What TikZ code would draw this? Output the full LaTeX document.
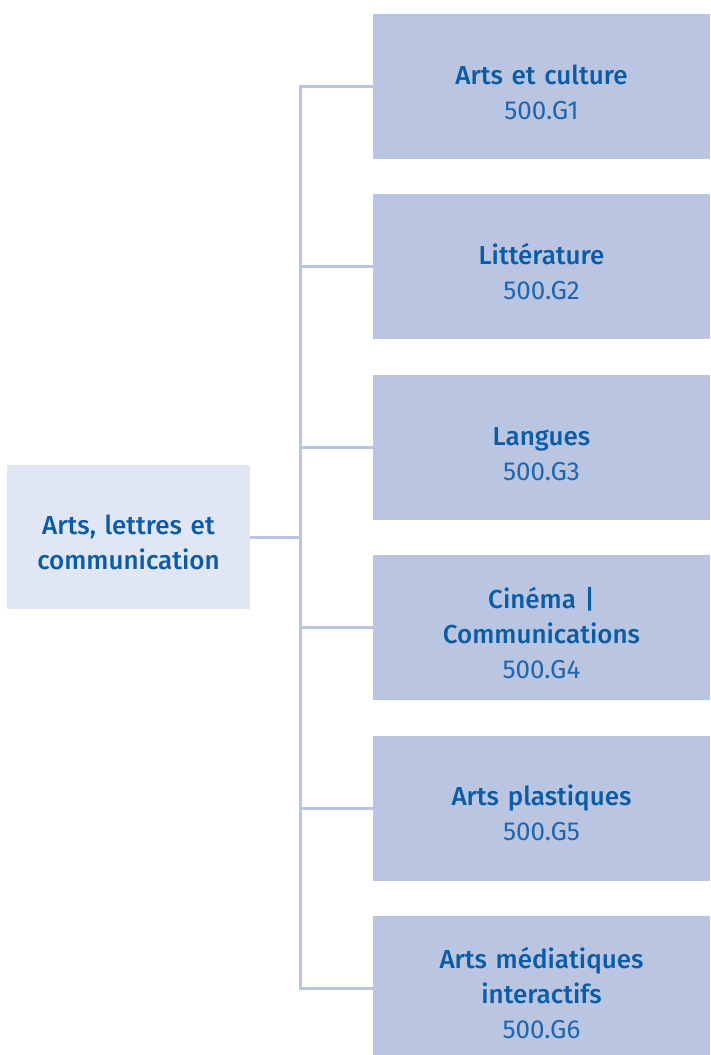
\documentclass[tikz,border=0pt]{standalone}
\usepackage{fontspec}
\setmainfont{Fira Sans}[BoldFont={Fira Sans Medium}]
\newfontfamily\codefont{Fira Sans}
\definecolor{rootfill}{HTML}{E0E6F3}
\definecolor{leaffill}{HTML}{BAC5E2}
\definecolor{linecol}{HTML}{BAC5E2}
\definecolor{textblue}{HTML}{0B5CA6}
\definecolor{codeblue}{HTML}{1F66B0}
\newcommand{\leafcode}[1]{{\codefont\color{codeblue}#1}}
\newcommand{\ttl}[1]{{\bfseries #1}}
\newcommand{\fl}{\rule{0pt}{31pt}}
\begin{document}
\begin{tikzpicture}[x=1pt,y=-1pt,
  basebox/.style={inner sep=0pt, align=center, text=textblue,
    font=\fontsize{26}{35}\selectfont},
  rootbox/.style={basebox, fill=rootfill, minimum width=243pt, minimum height=144pt, text width=230pt},
  leafbox/.style={basebox, fill=leaffill, minimum width=337pt, minimum height=145pt, text width=320pt},
  conn/.style={draw=linecol, line width=3pt}]
\useasboundingbox (0,0) rectangle (710,1055);
\node[rootbox] (root) at (128.5,537) {\fl\ttl{Arts, lettres et}\\\ttl{communication}};
\node[leafbox] (b1) at (541.5,86.5) {\fl\ttl{Arts et culture}\\\leafcode{500.G1}};
\node[leafbox] (b2) at (541.5,266.9) {\fl\ttl{Littérature}\\\leafcode{500.G2}};
\node[leafbox] (b3) at (541.5,447.3) {\fl\ttl{Langues}\\\leafcode{500.G3}};
\node[leafbox] (b4) at (541.5,627.7) {\fl\ttl{Cinéma |}\\\ttl{Communications}\\\leafcode{500.G4}};
\node[leafbox] (b5) at (541.5,808.1) {\fl\ttl{Arts plastiques}\\\leafcode{500.G5}};
\node[leafbox] (b6) at (541.5,988.5) {\fl\ttl{Arts médiatiques}\\\ttl{interactifs}\\\leafcode{500.G6}};
\coordinate (j) at (300,537);
\foreach \i in {1,...,6} {
  \coordinate (t\i) at (300,0 |- b\i.west);
}
\draw[conn] (root.east) -- (j);
\draw[conn, line cap=rect] (t1) -- (t6);
\foreach \i in {1,...,6} {
  \draw[conn] (t\i) -- (b\i.west);
}
\end{tikzpicture}
\end{document}
